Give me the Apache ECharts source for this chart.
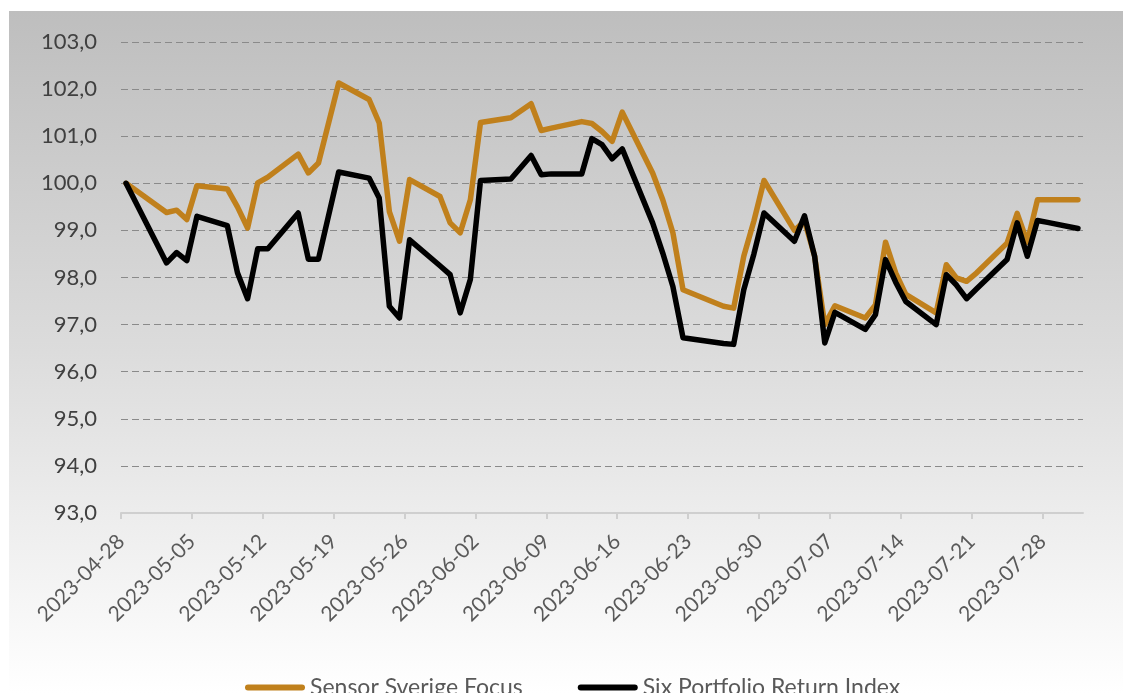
<!DOCTYPE html>
<html>
<head>
<meta charset="utf-8">
<title>Sensor Sverige Focus vs Six Portfolio Return Index</title>
<script src="https://cdn.jsdelivr.net/npm/echarts@6/dist/echarts.min.js"></script>
<style>
  html, body { margin: 0; padding: 0; background: #ffffff; }
  #chart { width: 1123px; height: 693px; }
</style>
</head>
<body>
<div id="chart"></div>
<script>
// Trading days (Swedish calendar) and index levels, base 100 on 2023-04-28
const dates = [
  '2023-04-28', '2023-05-02', '2023-05-03', '2023-05-04', '2023-05-05',
  '2023-05-08', '2023-05-09', '2023-05-10', '2023-05-11', '2023-05-12',
  '2023-05-15', '2023-05-16', '2023-05-17', '2023-05-19',
  '2023-05-22', '2023-05-23', '2023-05-24', '2023-05-25', '2023-05-26',
  '2023-05-29', '2023-05-30', '2023-05-31', '2023-06-01', '2023-06-02',
  '2023-06-05', '2023-06-07', '2023-06-08', '2023-06-09',
  '2023-06-12', '2023-06-13', '2023-06-14', '2023-06-15', '2023-06-16',
  '2023-06-19', '2023-06-20', '2023-06-21', '2023-06-22',
  '2023-06-26', '2023-06-27', '2023-06-28', '2023-06-29', '2023-06-30',
  '2023-07-03', '2023-07-04', '2023-07-05', '2023-07-06', '2023-07-07',
  '2023-07-10', '2023-07-11', '2023-07-12', '2023-07-13', '2023-07-14',
  '2023-07-17', '2023-07-18', '2023-07-19', '2023-07-20', '2023-07-21',
  '2023-07-24', '2023-07-25', '2023-07-26', '2023-07-27', '2023-07-28',
  '2023-07-31'
];

const sensorSverigeFocus = [
  100.00, 99.38, 99.43, 99.23, 99.95,
  99.88, 99.50, 99.05, 100.01, 100.13,
  100.62, 100.22, 100.43, 102.13,
  101.78, 101.28, 99.40, 98.77, 100.08,
  99.72, 99.16, 98.95, 99.65, 101.29,
  101.39, 101.69, 101.12, 101.17,
  101.31, 101.27, 101.10, 100.89, 101.51,
  100.22, 99.65, 98.95, 97.74,
  97.39, 97.35, 98.45, 99.20, 100.06,
  99.00, 99.20, 98.45, 97.00, 97.40,
  97.14, 97.42, 98.75, 98.10, 97.64,
  97.25, 98.27, 97.99, 97.92, 98.10,
  98.73, 99.36, 98.75, 99.65, 99.65,
  99.65
];

const sixPortfolioReturnIndex = [
  100.00, 98.31, 98.53, 98.36, 99.30,
  99.10, 98.10, 97.55, 98.61, 98.61,
  99.37, 98.39, 98.39, 100.24,
  100.11, 99.69, 97.39, 97.14, 98.80,
  98.25, 98.06, 97.25, 97.96, 100.06,
  100.09, 100.59, 100.18, 100.20,
  100.20, 100.95, 100.82, 100.52, 100.73,
  99.16, 98.52, 97.81, 96.72,
  96.60, 96.58, 97.74, 98.50, 99.37,
  98.77, 99.31, 98.45, 96.61, 97.26,
  96.90, 97.21, 98.38, 97.90, 97.49,
  97.00, 98.06, 97.84, 97.55, 97.76,
  98.38, 99.16, 98.45, 99.21, 99.17,
  99.04
];

const seriesNames = ['Sensor Sverige Focus', 'Six Portfolio Return Index'];
const axisStartDate = '2023-04-28';
const axisEndDate = '2023-08-01';
const yRange = [93, 103];
const tickStepDays = 7;

const DAY_MS = 86400000;
const toMs = s => Date.parse(s + 'T00:00:00Z');
const startMs = toMs(axisStartDate);
const dayIndex = s => (toMs(s) - startMs) / DAY_MS;
const dayLabel = d => new Date(startMs + d * DAY_MS).toISOString().slice(0, 10);

// Each trading day is plotted in the middle of its one-day slot on the date axis
const toPoints = values => dates.map((d, i) => [dayIndex(d) + 0.5, values[i]]);

const FONT = 'Lato, "Open Sans", "Noto Sans", sans-serif';
const ORANGE = '#c0801c';
const BLACK = '#000000';

const chart = echarts.init(document.getElementById('chart'), null, { renderer: 'canvas' });

chart.setOption({
  animation: false,
  backgroundColor: '#ffffff',
  textStyle: { fontFamily: FONT },
  graphic: [{
    type: 'rect',
    left: 9,
    top: 11,
    z: -10,
    silent: true,
    shape: { width: 1114, height: 682 },
    style: {
      fill: new echarts.graphic.LinearGradient(0, 0, 0, 1, [
        { offset: 0, color: '#bebebe' },
        { offset: 0.5, color: '#dcdcdc' },
        { offset: 1, color: '#ffffff' }
      ])
    }
  }],
  grid: { left: 121, right: 40, top: 42, bottom: 180, containLabel: false },
  legend: {
    left: 240,
    top: 671,
    itemWidth: 60,
    itemHeight: 6,
    itemGap: 55,
    icon: 'path://M3,0 L57,0 A3,3 0 0 1 57,6 L3,6 A3,3 0 0 1 3,0 Z',
    textStyle: { fontFamily: FONT, fontSize: 23, color: '#595959' },
    data: seriesNames
  },
  xAxis: {
    type: 'value',
    min: 0,
    max: dayIndex(axisEndDate),
    interval: tickStepDays,
    splitLine: { show: false },
    axisLine: { show: true, lineStyle: { color: '#cfcfcf', width: 2 } },
    axisTick: { show: true, length: 6, lineStyle: { color: '#cfcfcf', width: 2 } },
    axisLabel: {
      rotate: 45,
      margin: 25,
      padding: [20, 0, 0, 0],
      fontFamily: FONT,
      fontSize: 21,
      color: '#595959',
      showMaxLabel: false,
      formatter: v => dayLabel(v)
    }
  },
  yAxis: {
    type: 'value',
    min: yRange[0],
    max: yRange[1],
    interval: 1,
    axisLine: { show: false },
    axisTick: { show: false },
    splitLine: {
      show: true,
      lineStyle: { color: '#8a8a8a', width: 1, type: [7, 4] }
    },
    axisLabel: {
      margin: 24,
      fontFamily: FONT,
      fontSize: 22,
      color: '#404040',
      formatter: v => v.toFixed(1).replace('.', ',')
    }
  },
  series: [
    {
      name: seriesNames[0],
      type: 'line',
      data: toPoints(sensorSverigeFocus),
      showSymbol: false,
      symbol: 'none',
      itemStyle: { color: ORANGE },
      lineStyle: { color: ORANGE, width: 5.5, cap: 'round', join: 'round' }
    },
    {
      name: seriesNames[1],
      type: 'line',
      data: toPoints(sixPortfolioReturnIndex),
      showSymbol: false,
      symbol: 'none',
      itemStyle: { color: BLACK },
      lineStyle: { color: BLACK, width: 5.5, cap: 'round', join: 'round' }
    }
  ]
});
</script>
</body>
</html>
